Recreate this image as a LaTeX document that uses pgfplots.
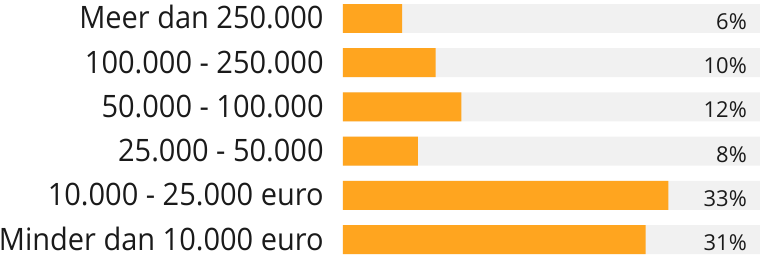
\documentclass[border=0pt]{standalone}
\usepackage{pgfplots}
\pgfplotsset{compat=1.18}
\usepackage{pgfplotstable}
\usepackage{fontspec}
\setmainfont{Open Sans}
\newfontfamily\labfont[FakeStretch=0.938]{Open Sans}
\definecolor{barorange}{HTML}{FFA51F}
\definecolor{bggrey}{HTML}{F1F1F1}
\definecolor{txt}{HTML}{1A1A1A}
\pgfplotstableread{
y val full pct
0 6.0 42.3 6
1 9.4 42.3 10
2 12.0 42.3 12
3 7.6 42.3 8
4 33.0 42.3 33
5 30.7 42.3 31
}\data
\begin{document}
\begin{tikzpicture}
\begin{axis}[name=ax, scale only axis, width=417bp, height=250bp,
 xmin=0, xmax=42.3, ymin=-0.328, ymax=5.328, y dir=reverse,
 axis line style={draw=none}, tick style={draw=none},
 xtick=\empty, ytick={0,...,5},
 yticklabels={Meer dan 250.000, 100.000 - 250.000, 50.000 - 100.000, 25.000 - 50.000, 10.000 - 25.000 euro, Minder dan 10.000 euro},
 yticklabel style={font=\labfont\fontsize{31}{31}\selectfont, text=txt, inner sep=0pt, anchor=base east, xshift=-15bp, yshift=-10.5bp},
 xbar, bar width=29bp, bar shift=0pt]
\addplot[draw=none, fill=bggrey, point meta=explicit symbolic,
  nodes near coords={\pgfplotspointmeta\%},
  nodes near coords style={anchor=base east, font=\fontsize{22}{22}\selectfont, text=txt, xshift=-13bp, yshift=-11bp, inner sep=0pt}]
  table[x=full, y=y, meta=pct]{\data};
\addplot[draw=none, fill=barorange] table[x=val, y=y]{\data};
\end{axis}
\pgfresetboundingbox
\path ([xshift=-343bp,yshift=-3bp]ax.south west) rectangle ([yshift=4bp]ax.north east);
\end{tikzpicture}
\end{document}
